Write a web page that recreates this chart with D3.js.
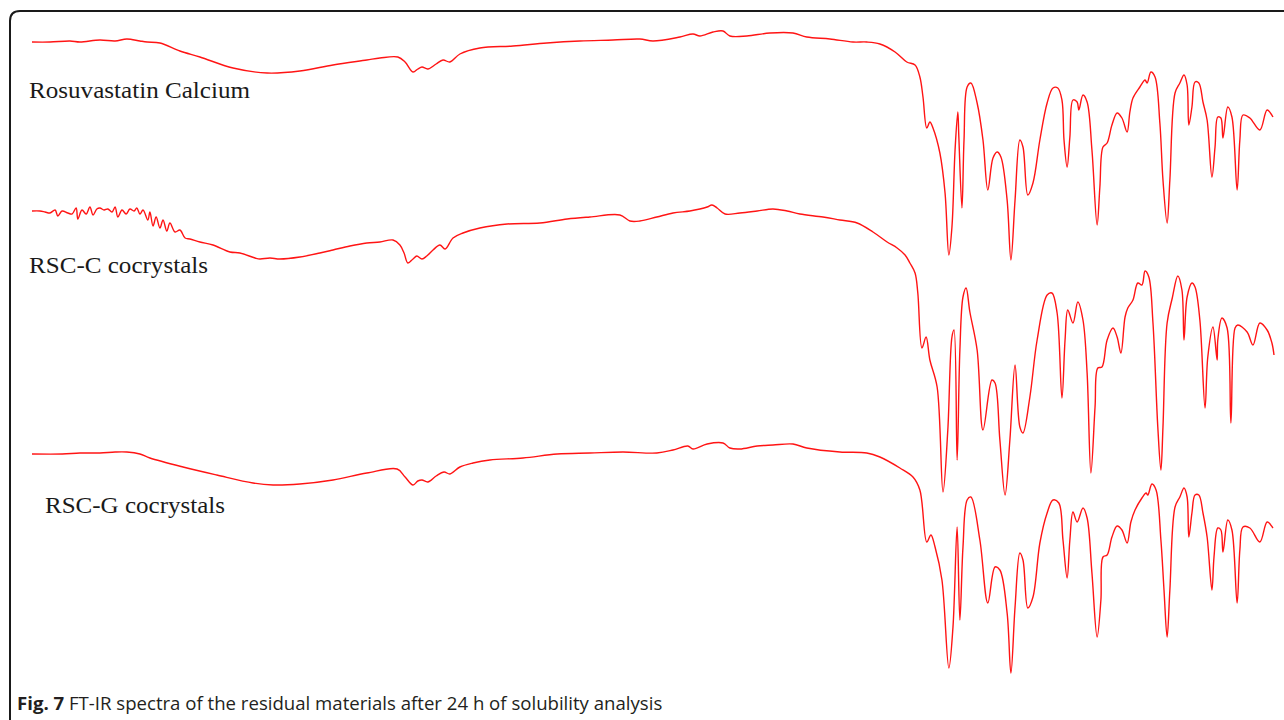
<!DOCTYPE html>
<html>
<head>
<meta charset="utf-8">
<script src="https://cdn.jsdelivr.net/npm/d3@7"></script>
<style>
  html, body { margin: 0; padding: 0; background: #fff; }
  svg { display: block; }
</style>
</head>
<body>
<div id="chart"></div>
<script>
// FT-IR spectra: [wavenumber (cm-1), offset absorbance (a.u., larger = lower on page)]
const rosuvastatin = [
  [4000,42],[3948,42],[3890,41],[3861,42],[3803,40],[3759,41],[3725,39],[3687,41],[3666,42],[3629,43],
  [3571,51],[3513,57],[3417,68],[3318,73],[3223,71],[3127,65],[3029,60],[2991,58],[2939,57],[2918,62],
  [2895,72],[2881,69],[2869,67],[2852,69],[2828,64],[2808,60],[2788,62],[2759,54],[2701,48],[2605,46],
  [2507,43],[2411,41],[2315,40],[2237,39],[2199,41],[2121,37],[2083,34],[2063,36],[2025,32],[1996,31],
  [1976,36],[1927,36],[1860,33],[1793,33],[1753,37],[1686,39],[1619,42],[1579,42],[1541,44],[1497,52],
  [1463,62],[1439,65],[1425,77],[1416,97],[1405,128],[1396,122],[1387,128],[1367,153],[1352,193],[1341,255],
  [1332,227],[1323,150],[1315,112],[1312,137],[1303,208],[1297,140],[1288,87],[1277,83],[1259,103],[1242,140],
  [1228,190],[1213,158],[1201,152],[1190,157],[1172,200],[1161,260],[1149,200],[1135,140],[1126,147],[1112,195],
  [1097,183],[1077,140],[1056,103],[1039,88],[1025,88],[1013,100],[1007,140],[998,167],[990,137],[981,100],
  [969,102],[964,110],[952,95],[940,102],[926,150],[911,225],[903,187],[894,147],[882,143],[868,125],
  [853,113],[839,118],[824,132],[816,112],[807,98],[787,87],[772,80],[766,83],[755,72],[743,77],
  [729,123],[720,180],[708,223],[700,180],[685,93],[671,83],[659,75],[650,85],[645,125],[636,107],
  [627,82],[616,83],[604,102],[592,120],[578,177],[569,147],[561,117],[552,118],[546,138],[532,107],
  [520,117],[505,190],[497,140],[488,115],[468,118],[439,130],[418,110],[401,117]
];

const rscC = [
  [4000,211],[3977,211],[3962,212],[3948,213],[3933,210],[3925,216],[3913,211],[3896,213],[3884,214],[3872,208],
  [3867,219],[3855,210],[3843,214],[3832,207],[3823,215],[3812,209],[3803,208],[3791,210],[3780,209],[3768,212],
  [3759,207],[3751,217],[3739,210],[3727,214],[3716,209],[3704,211],[3696,208],[3687,214],[3678,210],[3664,220],
  [3658,212],[3649,226],[3640,217],[3629,228],[3620,220],[3609,231],[3600,223],[3585,232],[3571,230],[3556,238],
  [3542,239],[3513,242],[3475,245],[3426,252],[3397,253],[3353,258],[3339,259],[3310,258],[3281,259],[3223,257],
  [3165,253],[3127,250],[3078,246],[3029,243],[2991,242],[2953,240],[2933,245],[2921,253],[2910,263],[2895,259],
  [2884,256],[2869,259],[2855,256],[2837,250],[2817,245],[2802,249],[2779,238],[2750,233],[2701,228],[2622,224],
  [2527,223],[2448,219],[2382,217],[2295,215],[2266,221],[2237,221],[2188,217],[2141,213],[2092,211],[2063,209],
  [2042,207],[2028,205],[2013,208],[1990,214],[1947,213],[1897,211],[1851,209],[1810,211],[1773,214],[1706,217],
  [1657,220],[1607,223],[1561,232],[1520,242],[1491,248],[1468,255],[1454,263],[1439,273],[1431,293],[1419,348],
  [1407,337],[1396,360],[1375,387],[1358,492],[1344,430],[1332,337],[1326,330],[1317,460],[1309,350],[1300,297],
  [1291,288],[1280,312],[1259,350],[1242,430],[1216,380],[1207,383],[1193,440],[1178,495],[1164,440],[1149,365],
  [1135,427],[1126,433],[1106,397],[1085,340],[1056,295],[1042,293],[1027,313],[1013,398],[1004,340],[996,310],
  [981,323],[967,302],[952,320],[940,373],[929,473],[917,407],[909,368],[897,367],[882,340],[865,328],
  [853,337],[842,353],[830,317],[822,308],[807,300],[793,283],[781,285],[772,271],[761,277],[749,323],
  [735,427],[726,470],[720,427],[708,323],[693,298],[677,276],[665,290],[659,340],[650,297],[636,283],
  [627,287],[613,320],[598,408],[590,357],[575,327],[563,360],[561,340],[549,318],[534,328],[523,423],
  [511,328],[503,325],[476,332],[459,345],[439,323],[418,330],[404,343],[398,355]
];

const rscG = [
  [4000,454],[3912,454],[3861,453],[3803,453],[3759,452],[3725,452],[3687,454],[3658,458],[3562,467],[3464,475],
  [3359,483],[3301,485],[3223,484],[3127,480],[3029,473],[2941,469],[2918,477],[2895,485],[2881,481],[2869,480],
  [2852,482],[2828,476],[2805,472],[2788,474],[2759,467],[2721,463],[2672,460],[2576,458],[2477,454],[2382,453],
  [2286,452],[2188,453],[2141,450],[2098,446],[2083,449],[2042,444],[1996,443],[1976,448],[1947,449],[1897,446],
  [1851,445],[1793,444],[1753,448],[1657,452],[1579,453],[1541,457],[1483,468],[1445,477],[1425,490],[1405,542],
  [1393,535],[1381,547],[1361,580],[1341,668],[1329,627],[1317,527],[1309,620],[1300,547],[1288,500],[1277,497],
  [1251,540],[1228,603],[1207,567],[1193,570],[1172,613],[1161,673],[1149,607],[1135,553],[1126,560],[1112,608],
  [1097,597],[1077,543],[1056,513],[1039,500],[1022,503],[1010,540],[998,578],[990,540],[981,512],[969,522],
  [952,508],[940,518],[926,573],[911,637],[900,600],[894,557],[882,555],[868,537],[853,526],[839,530],
  [824,543],[813,522],[801,510],[781,498],[769,493],[764,495],[752,484],[740,490],[726,540],[717,590],
  [708,637],[700,590],[685,507],[671,497],[659,488],[650,497],[645,537],[636,513],[627,495],[616,495],
  [604,513],[592,537],[578,590],[572,557],[561,528],[552,530],[546,552],[532,520],[520,530],[505,603],
  [497,550],[488,527],[468,528],[439,542],[418,522],[401,528]
];

const seriesNames = ["Rosuvastatin Calcium", "RSC-C cocrystals", "RSC-G cocrystals"];
const seriesData = [rosuvastatin, rscC, rscG];
const labelPos = [[29, 98], [29, 273], [45, 513]];
const labelWidths = [221, 179, 180];

const width = 1284;
const height = 720;

const svg = d3.select("#chart")
  .append("svg")
  .attr("width", width)
  .attr("height", height);

// rounded frame (only top-left corner is in view)
svg.append("path")
  .attr("d", "M10,722 L10,21 Q10,11 20,11 L1286,11")
  .attr("fill", "none")
  .attr("stroke", "#1a1a1a")
  .attr("stroke-width", 2);

const x = d3.scaleLinear().domain([4000, 398]).range([32, 1274]);
const y = d3.scaleLinear().domain([0, 700]).range([0, 700]);

const line = d3.line()
  .curve(d3.curveCatmullRom.alpha(0.5))
  .x(d => x(d[0]))
  .y(d => y(d[1]));

svg.selectAll("path.spectrum")
  .data(seriesData)
  .enter()
  .append("path")
  .attr("class", "spectrum")
  .attr("d", line)
  .attr("fill", "none")
  .attr("stroke", "#ff1414")
  .attr("stroke-width", 1.4)
  .attr("stroke-linejoin", "round");

svg.selectAll("text.label")
  .data(seriesNames)
  .enter()
  .append("text")
  .attr("class", "label")
  .attr("x", (d, i) => labelPos[i][0])
  .attr("y", (d, i) => labelPos[i][1])
  .attr("textLength", (d, i) => labelWidths[i])
  .attr("lengthAdjust", "spacingAndGlyphs")
  .attr("font-family", "'Liberation Serif', 'DejaVu Serif', serif")
  .attr("font-size", 23)
  .attr("fill", "#1a1a1a")
  .text(d => d);

// caption
const cap = svg.append("text")
  .attr("x", 17)
  .attr("y", 710)
  .attr("font-family", "'Open Sans', 'Noto Sans', sans-serif")
  .attr("font-size", 18.6)
  .attr("fill", "#231f20");
cap.append("tspan").attr("font-weight", "bold").text("Fig. 7");
cap.append("tspan").text(" FT-IR spectra of the residual materials after 24 h of solubility analysis");
</script>
</body>
</html>
